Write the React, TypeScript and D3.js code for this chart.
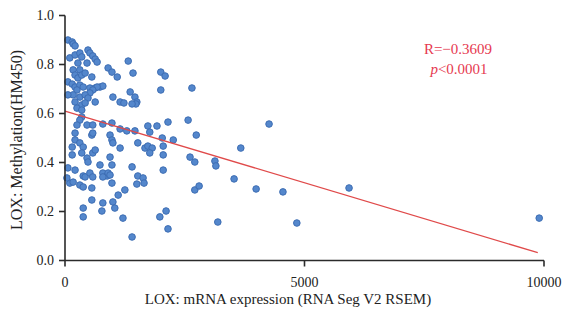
import React from "react";
import * as d3 from "d3";

// LOX mRNA expression (x) vs methylation (y)
const expression: number[] = [
  60, 150, 170, 210, 100, 210, 310, 350, 480, 520, 580, 630, 670, 460, 270, 170, 210, 310, 270, 350,
  420, 560, 60, 150, 210, 310, 380, 250, 520, 630, 730, 790, 670, 580, 520, 170, 310, 420, 480, 210,
  350, 420, 250, 350, 350, 310, 250, 210, 460, 580, 790, 980, 1150, 1290, 1460, 560, 940, 980, 1150, 900,
  980, 1090, 1320, 1420, 1360, 1460, 1500, 1000, 1150, 1230, 630, 2000, 2090, 2650, 2000, 1480, 1400, 60, 1730, 1770,
  1920, 2150, 2570, 2740, 1520, 1670, 1730, 1820, 1770, 2030, 2050, 2260, 2050, 2610, 2710, 1400, 2050, 1520, 1630, 1500,
  1650, 150, 210, 310, 380, 150, 350, 460, 480, 580, 630, 580, 730, 940, 1000, 980, 60, 210, 380, 790,
  880, 100, 170, 310, 380, 420, 520, 580, 560, 790, 900, 940, 980, 1110, 1250, 40, 560, 380, 380, 770,
  790, 1000, 1040, 1210, 1400, 1980, 2110, 2150, 2710, 2800, 3130, 3150, 3670, 4260, 3530, 3990, 4550, 3190, 4840, 5930,
  9900,
];
const methylation: number[] = [
  0.900, 0.892, 0.884, 0.876, 0.827, 0.839, 0.847, 0.831, 0.859, 0.847, 0.835, 0.822, 0.810, 0.806, 0.806, 0.778, 0.757, 0.778, 0.745, 0.757,
  0.765, 0.749, 0.729, 0.720, 0.708, 0.716, 0.708, 0.696, 0.704, 0.704, 0.708, 0.712, 0.708, 0.696, 0.684, 0.676, 0.667, 0.676, 0.663, 0.647,
  0.635, 0.643, 0.622, 0.614, 0.586, 0.573, 0.553, 0.520, 0.553, 0.553, 0.557, 0.561, 0.537, 0.529, 0.529, 0.512, 0.512, 0.492, 0.459, 0.786,
  0.769, 0.749, 0.814, 0.765, 0.688, 0.667, 0.647, 0.667, 0.647, 0.643, 0.647, 0.769, 0.753, 0.704, 0.696, 0.639, 0.639, 0.676, 0.549, 0.524,
  0.549, 0.565, 0.573, 0.512, 0.480, 0.459, 0.467, 0.459, 0.439, 0.500, 0.467, 0.492, 0.431, 0.422, 0.402, 0.382, 0.369, 0.345, 0.337, 0.312,
  0.316, 0.463, 0.492, 0.480, 0.463, 0.431, 0.439, 0.418, 0.402, 0.439, 0.451, 0.520, 0.390, 0.422, 0.480, 0.390, 0.378, 0.369, 0.345, 0.357,
  0.345, 0.316, 0.320, 0.308, 0.300, 0.341, 0.357, 0.341, 0.296, 0.341, 0.357, 0.349, 0.316, 0.267, 0.288, 0.337, 0.247, 0.214, 0.178, 0.202,
  0.235, 0.239, 0.214, 0.173, 0.096, 0.178, 0.202, 0.129, 0.288, 0.304, 0.406, 0.386, 0.459, 0.557, 0.333, 0.292, 0.280, 0.157, 0.153, 0.296,
  0.173,
];

// regression line end points
const fitX: number[] = [0, 9870];
const fitY: number[] = [0.61, 0.032];

const yTicks: number[] = [0, 0.2, 0.4, 0.6, 0.8, 1.0];
const xTicks: number[] = [0, 5000, 10000];

const statR = "R=\u22120.3609";
const statP = "<0.0001";
const xTitle = "LOX: mRNA expression (RNA Seg V2 RSEM)";
const yTitle = "LOX: Methylation(HM450)";

const W = 570;
const H = 321;
const FONT = "'Liberation Serif', 'Times New Roman', serif";

export default function App() {
  const x = d3.scaleLinear().domain([0, 10000]).range([65, 544]);
  const y = d3.scaleLinear().domain([0, 1]).range([260.5, 15.5]);
  const fmtY = d3.format(".1f");
  const line = d3
    .line<number>()
    .x((d, i) => x(fitX[i]))
    .y((d, i) => y(fitY[i]));

  const pts = expression.map((v, i) => ({ v, m: methylation[i] }));
  const axisColor = "#2b2b2b";
  const red = "#e6394f";

  return (
    <svg
      width={W}
      height={H}
      style={{ position: "absolute", left: 0, top: 0, background: "#fff" }}
      fontFamily={FONT}
    >
      <rect x={0} y={0} width={W} height={H} fill="#fff" />
      {/* points */}
      {pts.map((p, i) => (
        <circle
          key={i}
          cx={x(p.v)}
          cy={y(p.m)}
          r={3.3}
          fill="#5487cc"
          stroke="#3d6db3"
          strokeWidth={1}
        />
      ))}
      {/* regression */}
      <path d={line(fitX) || ""} stroke="#e04a4a" strokeWidth={1.3} fill="none" />

      {/* y axis */}
      <line x1={x(0)} x2={x(0)} y1={y(1)} y2={y(0)} stroke={axisColor} strokeWidth={1.6} />
      {yTicks.map((t) => (
        <g key={t}>
          <line x1={x(0) - 6} x2={x(0)} y1={y(t)} y2={y(t)} stroke={axisColor} strokeWidth={1.6} />
          <text
            x={x(0) - 11}
            y={y(t)}
            dy="0.35em"
            textAnchor="end"
            fontSize={14}
            fill="#222"
          >
            {fmtY(t)}
          </text>
        </g>
      ))}
      {/* x axis */}
      <line x1={x(0)} x2={x(10000)} y1={y(0)} y2={y(0)} stroke={axisColor} strokeWidth={1.6} />
      {xTicks.map((t) => (
        <g key={t}>
          <line x1={x(t)} x2={x(t)} y1={y(0)} y2={y(0) + 6} stroke={axisColor} strokeWidth={1.6} />
          <text x={x(t)} y={287} textAnchor="middle" fontSize={14} fill="#222">
            {t}
          </text>
        </g>
      ))}
      {/* titles */}
      <text x={288} y={304} textAnchor="middle" fontSize={15} fill="#222">
        {xTitle}
      </text>
      <text
        transform={`translate(22,${140}) rotate(-90)`}
        textAnchor="middle"
        fontSize={16}
        fill="#222"
      >
        {yTitle}
      </text>
      {/* stats */}
      <text x={458} y={54} textAnchor="middle" fontSize={15} fill={red}>
        {statR}
      </text>
      <text x={459} y={74} textAnchor="middle" fontSize={15} fill={red}>
        <tspan fontStyle="italic">p</tspan>
        {statP}
      </text>
    </svg>
  );
}
